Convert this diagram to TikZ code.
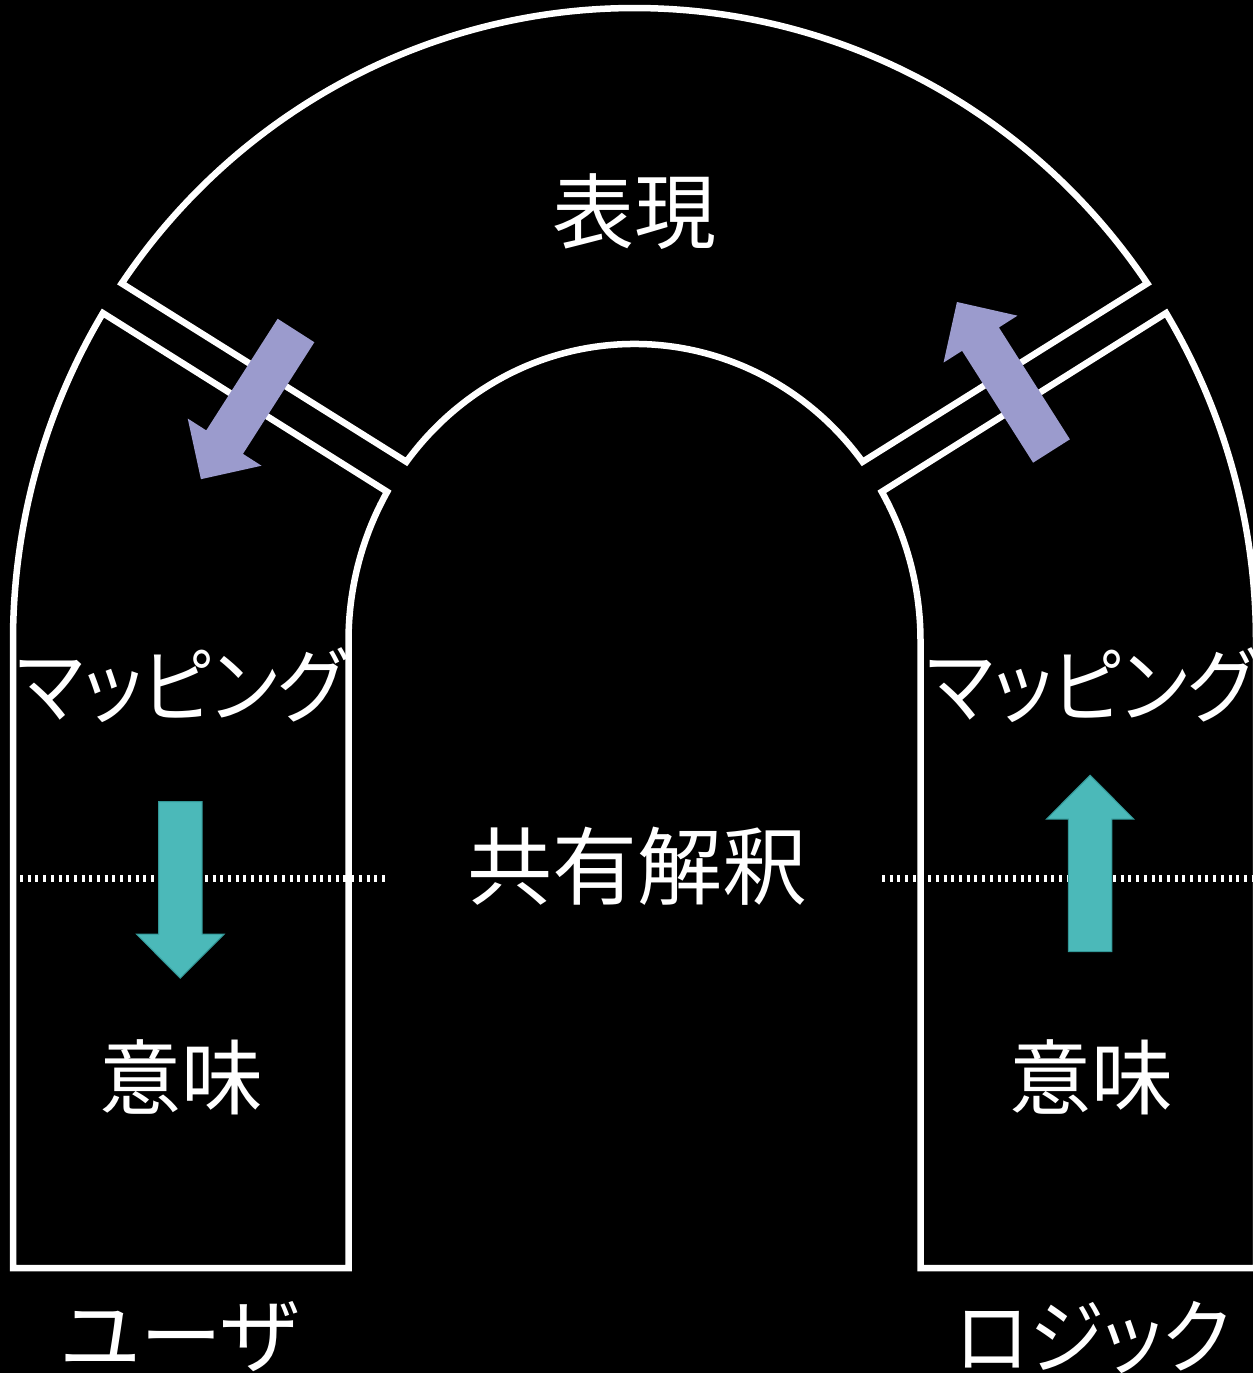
\documentclass[tikz,border=0pt]{standalone}
\usepackage{fontspec}
\newfontfamily\jpfont[RawFeature=+palt]{Noto Sans CJK JP}
\definecolor{purpc}{RGB}{155,155,205}
\definecolor{tealc}{RGB}{75,185,185}
\definecolor{tealline}{RGB}{50,150,150}
\tikzset{
  piece/.style={draw=white, line width=6.5pt},
  lbl/.style={text=white, font=\jpfont\fontsize{82}{90}\selectfont, inner sep=0pt, anchor=center},
  sepline/.style={white, line width=7pt, dash pattern=on 3pt off 4.7pt},
  tealarrow/.style={fill=tealc, draw=tealline, line width=1pt},
  purparrow/.style={fill=purpc},
  barrow/.pic={\path[pic actions] (0,-21.8) -- (132.5,-21.8) -- (132.5,-43.8) -- (176.5,0) -- (132.5,43.8) -- (132.5,21.8) -- (0,21.8) -- cycle;}
}
\begin{document}
\begin{tikzpicture}[x=1pt,y=-1pt]
\fill[black] (0,0) rectangle (1253,1373);
\useasboundingbox (0,0) rectangle (1253,1373);
\clip (0,0) rectangle (1253,1373);

% corner points of the three pieces (on two ellipses centred at (634.5,641))
\coordinate (topOL) at (121.7,283.4);
\coordinate (topOR) at (1147.3,283.4);
\coordinate (topIL) at (406.4,461.8);
\coordinate (topIR) at (862.6,461.8);
\coordinate (leftO) at (102.9,313.1);
\coordinate (leftI) at (387.2,491.8);
\coordinate (rightO) at (1166.1,313.1);
\coordinate (rightI) at (881.8,491.8);

% top piece
\draw[piece] (topOL) arc[start angle=214.4, end angle=325.6, x radius=621.5, y radius=633]
  -- (topIR) arc[start angle=322.9, end angle=217.1, x radius=286, y radius=297] -- cycle;

% left piece
\draw[piece] (leftI) arc[start angle=210.15, end angle=180, x radius=286, y radius=297]
  -- (348.5,1268) -- (13,1268) -- (13,641)
  arc[start angle=180, end angle=211.2, x radius=621.5, y radius=633] -- cycle;

% right piece
\draw[piece] (rightI) arc[start angle=329.85, end angle=360, x radius=286, y radius=297]
  -- (920.5,1268) -- (1256,1268) -- (1256,641)
  arc[start angle=360, end angle=328.8, x radius=621.5, y radius=633] -- cycle;

% dotted separators
\coordinate (sepLa) at (20,878.5);
\coordinate (sepLb) at (387,878.5);
\coordinate (sepRa) at (882,878.5);
\coordinate (sepRb) at (1253,878.5);
\draw[sepline] (sepLa) -- (sepLb);
\draw[sepline] (sepRa) -- (sepRb);

% arrows
\pic[purparrow, rotate=237.4] at (296,330.5) {barrow};
\pic[purparrow, rotate=122.4] at (1051.5,451) {barrow};
\pic[tealarrow, rotate=-90] at (180.3,801.7) {barrow};
\pic[tealarrow, rotate=90] at (1090.1,951.7) {barrow};

% labels
\node[lbl] (hyogen) at (634,212) {表現};
\node[lbl] (mapL) at (181,685) {\scalebox{0.91}[1]{マッピング}};
\node[lbl] (mapR) at (1091,685) {\scalebox{0.91}[1]{マッピング}};
\node[lbl, font=\jpfont\fontsize{85}{90}\selectfont] (kyoyu) at (637,866) {共有解釈};
\node[lbl] (imiL) at (181,1077) {意味};
\node[lbl] (imiR) at (1091,1077) {意味};
\node[lbl] (user) at (180,1337) {ユーザ};
\node[lbl] (logic) at (1093,1337) {\scalebox{0.92}[1]{ロジック}};
\end{tikzpicture}
\end{document}
